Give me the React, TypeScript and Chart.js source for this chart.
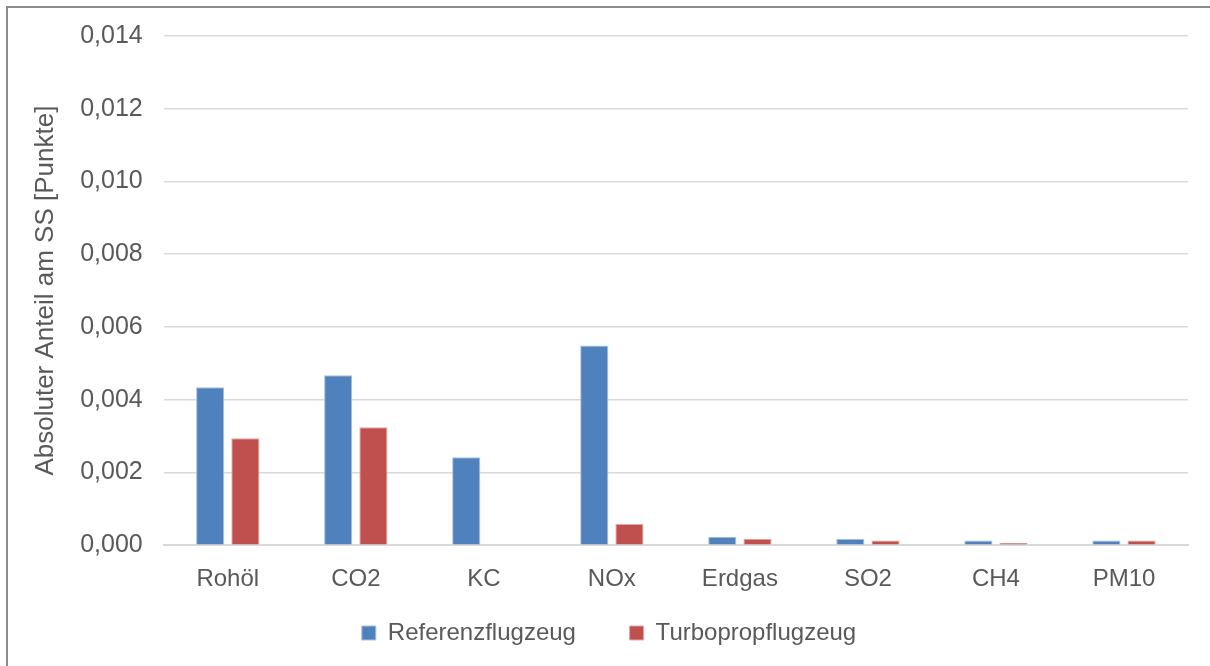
import React, { useEffect, useRef } from "react";
import { Chart, registerables } from "chart.js";

Chart.register(...registerables);

const categories = ["Rohöl", "CO2", "KC", "NOx", "Erdgas", "SO2", "CH4", "PM10"];
const referenzValues = [0.00434, 0.00467, 0.00242, 0.00549, 0.00023, 0.00018, 0.00013, 0.00013];
const turbopropValues = [0.00294, 0.00324, 0, 0.00058, 0.00018, 0.00013, 0.00007, 0.00013];
const seriesNames = ["Referenzflugzeug", "Turbopropflugzeug"];
const yAxisTitle = "Absoluter Anteil am SS [Punkte]";

const FONT = "'Liberation Sans', Arial, sans-serif";
const TEXT = "#595959";

export default function App() {
  const ref = useRef<HTMLCanvasElement>(null);
  useEffect(() => {
    if (!ref.current) return;
    const chart = new Chart(ref.current, {
      type: "bar",
      data: {
        labels: categories,
        datasets: [
          {
            label: seriesNames[0],
            data: referenzValues,
            backgroundColor: "#4f81bd",
            borderColor: "#a9c1e0",
            borderWidth: 1,
            barPercentage: 0.8,
            categoryPercentage: 0.55,
          },
          {
            label: seriesNames[1],
            data: turbopropValues,
            backgroundColor: "#c0504d",
            borderColor: "#e3a8a6",
            borderWidth: 1,
            barPercentage: 0.8,
            categoryPercentage: 0.55,
          },
        ],
      },
      options: {
        animation: false,
        responsive: true,
        maintainAspectRatio: false,
        layout: { padding: { left: 22, right: 22, top: 28, bottom: 11 } },
        plugins: {
          legend: {
            position: "bottom",
            labels: {
              font: { family: FONT, size: 24 },
              color: TEXT,
              boxWidth: 14,
              boxHeight: 14,
              padding: 7,
              generateLabels: (c: any) => {
                const items = Chart.defaults.plugins.legend.labels.generateLabels(c);
                items.forEach((it: any, i: number) => {
                  if (i < items.length - 1) it.text = it.text + "\u00a0".repeat(7);
                });
                return items;
              },
            },
          },
          tooltip: { enabled: false },
        },
        scales: {
          x: {
            grid: { display: false, drawTicks: false },
            border: { color: "#d9d9d9", width: 2 },
            ticks: { font: { family: FONT, size: 24 }, color: TEXT, padding: 20 },
          },
          y: {
            min: 0,
            max: 0.014,
            ticks: {
              stepSize: 0.002,
              font: { family: FONT, size: 25 },
              color: TEXT,
              padding: 8,
              callback: (v: any) => Number(v).toFixed(3).replace(".", ","),
            },
            grid: { color: "#d9d9d9", lineWidth: 1.5, drawTicks: true, tickLength: 13, tickColor: "rgba(0,0,0,0)" },
            border: { display: false },
            title: {
              display: true,
              text: yAxisTitle,
              font: { family: FONT, size: 26 },
              color: TEXT,
              padding: { top: 0, bottom: 11 },
            },
          },
        },
      },
    });
    return () => chart.destroy();
  }, []);
  return (
    <div style={{ position: "absolute", left: 0, top: 0, width: 1210, height: 666, background: "#fff", overflow: "hidden" }}>
      <div style={{ position: "absolute", left: 6, top: 6, width: 1230, height: 690, border: "2px solid #8c8c8c", boxSizing: "border-box" }} />
      <div style={{ position: "absolute", left: 8, top: 8, width: 1202, height: 658 }}>
        <canvas ref={ref} />
      </div>
    </div>
  );
}
